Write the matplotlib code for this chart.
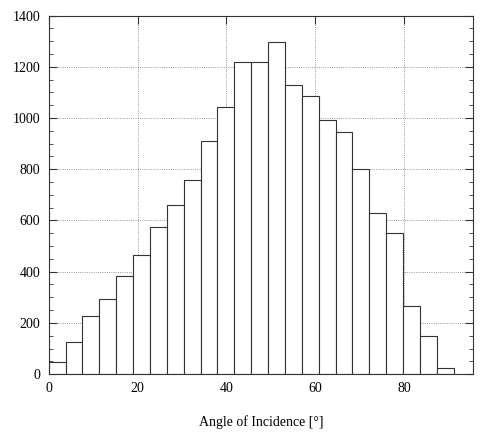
import numpy as np
import matplotlib.pyplot as plt
from matplotlib.ticker import MultipleLocator

plt.rcParams['font.family'] = ['Liberation Serif', 'DejaVu Serif']

# DATA
bin_width = 3.8  # degrees
bin_starts = np.arange(24) * bin_width
counts = [47, 126, 228, 294, 383, 464, 576, 660, 757, 909, 1042, 1219,
          1220, 1296, 1130, 1087, 994, 946, 800, 628, 550, 266, 150, 22]

fig = plt.figure(figsize=(4.82, 4.32), dpi=100)
ax = fig.add_axes([0.101, 0.134, 0.88, 0.830])

ax.bar(bin_starts, counts, width=bin_width, align='edge',
       color='white', edgecolor='#333333', linewidth=0.8, zorder=2)

ax.set_xlim(0, 95.5)
ax.set_ylim(0, 1400)
ax.xaxis.set_major_locator(MultipleLocator(20))
ax.yaxis.set_major_locator(MultipleLocator(200))
ax.yaxis.set_minor_locator(MultipleLocator(50))

ax.grid(True, which='major', linestyle=':', color='#777777', linewidth=0.6, zorder=0)
ax.set_axisbelow(True)

ax.tick_params(which='both', direction='in', top=True, right=True,
               labelsize=10, color='#333333')
ax.tick_params(which='major', length=6, width=0.8, pad=6)
ax.tick_params(which='minor', length=3, width=0.6)
for s in ax.spines.values():
    s.set_color('#333333')
    s.set_linewidth(0.8)

ax.set_xlabel('Angle of Incidence [°]', fontsize=10, labelpad=14)

fig.savefig('out.png', dpi=100)
